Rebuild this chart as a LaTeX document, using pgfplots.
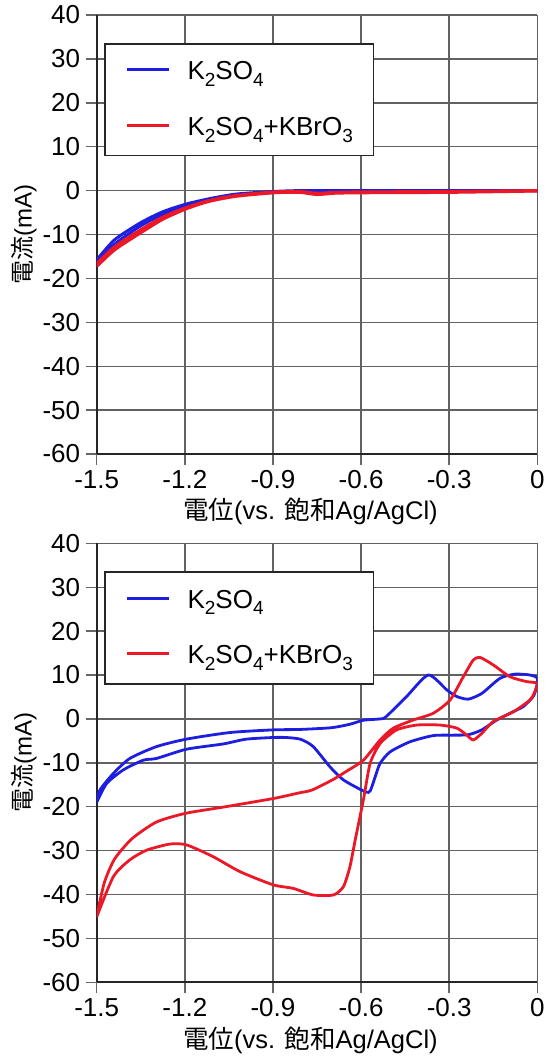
\documentclass[border=0pt]{standalone}
\usepackage{pgfplots}
\pgfplotsset{compat=1.18}
\usepackage{fontspec}
\setmainfont{Liberation Sans}
\newfontfamily\cjk{Noto Sans CJK JP}
\definecolor{bl}{RGB}{30,30,225}
\definecolor{rd}{RGB}{235,25,40}
\newcommand\sub[1]{\raisebox{-6.5pt}{\fontsize{19}{19}\selectfont #1}}
\pgfplotsset{
  cvax/.style={
    scale only axis, width=440.6pt, height=439pt,
    xmin=-1.5, xmax=0, ymin=-60, ymax=40,
    xtick={-1.5,-1.2,-0.9,-0.6,-0.3,0},
    xticklabels={-1.5,-1.2,-0.9,-0.6,-0.3,0},
    ytick={-60,-50,-40,-30,-20,-10,0,10,20,30,40},
    yticklabels={-60,-50,-40,-30,-20,-10,0,10,20,30,40},
    axis x line*=bottom, axis y line*=left,
    every non boxed x axis/.append style={x axis line style=-},
    every non boxed y axis/.append style={y axis line style=-},
    axis line style={black!85, line width=2pt},
    grid=major, grid style={black!62, line width=1.4pt},
    tick align=outside, major tick length=11pt,
    tick style={black!60, line width=1.4pt},
    ticklabel style={font=\fontsize{26}{30}\selectfont},
    yticklabel style={anchor=east, xshift=-2pt},
    xticklabel style={anchor=north, yshift=-2pt},
    xlabel={{\cjk 電位}({}vs. {\cjk 飽和}Ag/AgCl)},
    ylabel={{\cjk 電流}(mA)},
    xlabel style={font=\fontsize{25.5}{28}\selectfont, at={(axis description cs:0.485,-0.1314)}, anchor=center},
    ylabel style={font=\fontsize{24}{28}\selectfont, at={(axis description cs:-0.165,0.5)}, anchor=center, rotate=0},
    legend style={at={(0.0173,0.936)}, anchor=north west, draw=black!85, line width=1.5pt,
      font=\fontsize{26}{30}\selectfont, inner xsep=20.7pt, inner ysep=14pt,
      column sep=17.3pt, row sep=27.7pt,
      nodes={inner sep=0pt, text height=22pt, text depth=6pt}},
    legend cell align=left,
    legend image code/.code={\draw[#1, line width=3pt] (0pt,2pt) -- (41.5pt,2pt);},
  }
}
\begin{document}
\begin{tikzpicture}
\path[use as bounding box] (0,0) rectangle (544pt,-1057pt);
% ---------------- top
\begin{axis}[cvax, at={(96.7pt,-15pt)}, anchor=north west]
\addplot[bl, line width=3pt, smooth, tension=0.4] coordinates {
(-1.5,-15.8) (-1.439,-11.2) (-1.35,-7.3) (-1.274,-4.8) (-1.197,-3.1) (-1.12,-1.9) (-1.026,-0.8) (-0.896,-0.2) (-0.8,0) (-0.6,0) (-0.3,0) (0,0)
};
\addlegendentry{K\sub{2}SO\sub{4}}
\addplot[bl, line width=3pt, smooth, tension=0.4, forget plot] coordinates {
(-1.5,-16.5) (-1.439,-12.2) (-1.35,-8.0) (-1.274,-5.4) (-1.197,-3.6) (-1.12,-2.3) (-1.026,-1.1) (-0.896,-0.4) (-0.8,-0.2) (-0.6,-0.2) (-0.3,-0.1) (0,0)
};
\addplot[rd, line width=3pt, smooth, tension=0.4] coordinates {
(-1.5,-17.3) (-1.439,-13.5) (-1.35,-9.6) (-1.274,-6.5) (-1.197,-4.2) (-1.12,-2.5) (-1.026,-1.3) (-0.896,-0.5) (-0.81,-0.4) (-0.75,-0.9) (-0.69,-0.6) (-0.6,-0.5) (-0.3,-0.4) (0,-0.1)
};
\addlegendentry{K\sub{2}SO\sub{4}+KBrO\sub{3}}
\addplot[rd, line width=3pt, smooth, tension=0.4, forget plot] coordinates {
(-1.5,-16.6) (-1.439,-12.8) (-1.35,-8.9) (-1.274,-6.0) (-1.197,-3.9) (-1.12,-2.3) (-1.026,-1.1) (-0.896,-0.3) (-0.81,-0.2) (-0.75,-0.6) (-0.69,-0.4) (-0.6,-0.3) (-0.3,-0.2) (0,0)
};
\end{axis}
% ---------------- bottom
\begin{axis}[cvax, at={(96.7pt,-543.3pt)}, anchor=north west]
\addplot[bl, line width=2.8pt, smooth, tension=0.4] coordinates {
(-1.5,-19) (-1.489,-16.2) (-1.443,-12.4) (-1.387,-9.0) (-1.296,-6.3) (-1.194,-4.6) (-1.046,-3.1) (-0.899,-2.5) (-0.808,-2.4) (-0.70,-2.0) (-0.637,-1.2) (-0.592,-0.3) (-0.535,0.0) (-0.515,0.5) (-0.445,5.1) (-0.371,10.0) (-0.308,6.6) (-0.274,5.1) (-0.235,4.5) (-0.189,5.8) (-0.127,9.25) (-0.076,10.2) (-0.025,10.0) (0,9.3)
(-0.003,7.2) (-0.014,5.1) (-0.048,2.8) (-0.093,1.3) (-0.138,-0.25) (-0.189,-2.5) (-0.235,-3.6) (-0.286,-3.7) (-0.354,-3.8) (-0.433,-5.2) (-0.501,-7.5) (-0.535,-10.1) (-0.552,-13.2) (-0.569,-16.4) (-0.586,-16.6) (-0.660,-13.9) (-0.706,-10.9) (-0.763,-6.3) (-0.808,-4.6) (-0.876,-4.2) (-0.989,-4.6) (-1.069,-5.7) (-1.194,-6.9) (-1.296,-9.0) (-1.341,-9.4) (-1.409,-11.6) (-1.466,-14.7) (-1.5,-19)
};
\addlegendentry{K\sub{2}SO\sub{4}}
\addplot[rd, line width=2.8pt, smooth, tension=0.4] coordinates {
(-1.5,-45) (-1.474,-37.3) (-1.439,-31.9) (-1.38,-27.3) (-1.297,-23.5) (-1.197,-21.5) (-1.061,-20) (-0.896,-18.1) (-0.814,-16.9) (-0.767,-16.2) (-0.695,-13.8) (-0.649,-11.9) (-0.592,-9.4) (-0.535,-4.8) (-0.490,-2.1) (-0.422,-0.25) (-0.354,1.3) (-0.297,4.3) (-0.252,9.6) (-0.218,13.4) (-0.195,14.0) (-0.150,12.3) (-0.093,9.6) (-0.036,8.5) (0,8.1)
(-0.01,6) (-0.025,4.3) (-0.082,1.6) (-0.150,-0.6) (-0.189,-3.3) (-0.218,-4.8) (-0.240,-3.7) (-0.274,-2.1) (-0.331,-1.4) (-0.410,-1.4) (-0.479,-2.5) (-0.535,-5.6) (-0.569,-10.1) (-0.592,-18.4) (-0.620,-27.6) (-0.638,-33.7) (-0.660,-38.2) (-0.694,-40.1) (-0.763,-40.1) (-0.831,-38.6) (-0.899,-37.8) (-1.012,-34.8) (-1.103,-31.4) (-1.194,-28.7) (-1.250,-28.5) (-1.330,-29.9) (-1.387,-32.1) (-1.443,-35.9) (-1.5,-45.1)
};
\addlegendentry{K\sub{2}SO\sub{4}+KBrO\sub{3}}
\end{axis}
\end{tikzpicture}
\end{document}
